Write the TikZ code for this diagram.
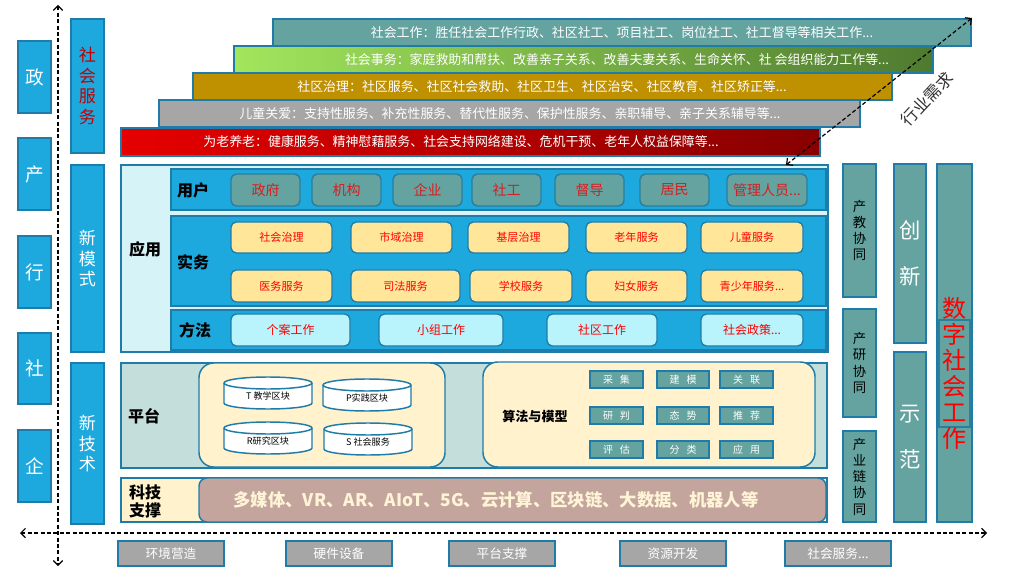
\documentclass[tikz,border=0pt]{standalone}
\usepackage{fontspec}
\setmainfont{Noto Sans CJK SC}
\usetikzlibrary{arrows.meta}
\definecolor{bfill}{HTML}{1EA9DE}
\definecolor{bline}{HTML}{1F7CA8}
\definecolor{tealc}{HTML}{64A39F}
\definecolor{tline}{HTML}{2A7F9E}
\definecolor{appbg}{HTML}{D6F4F8}
\definecolor{platbg}{HTML}{C3DEDB}
\definecolor{ylw}{HTML}{FFE699}
\definecolor{ylwl}{HTML}{FFF2CC}
\definecolor{cyanl}{HTML}{B9F3FB}
\definecolor{brownc}{HTML}{C4A59E}
\definecolor{grayc}{HTML}{A6A6A6}
\definecolor{goldc}{HTML}{BF9000}
\definecolor{grnL}{HTML}{A2E65C}
\definecolor{grnR}{HTML}{4E7A2F}
\definecolor{redL}{HTML}{E60000}
\definecolor{redR}{HTML}{870000}
\definecolor{dred}{HTML}{C00000}
\definecolor{txtred}{HTML}{D42020}
\definecolor{techtxt}{HTML}{FFF4D6}
% box from corners (pixel coordinates): [options]{name}{x1}{y1}{x2}{y2}{text}
\newcommand{\mkbox}[7][]{\node[#1,minimum width={(#5-#3)*0.75pt},minimum height={(#6-#4)*0.75pt}] (#2) at ({(#3+#5)/2},{(#4+#6)/2}) {#7};}
\newcommand{\mycyl}[4]{%
  \begin{scope}[shift={(#1,#2)}]
    \draw[cylsty] (-44,-10) -- (-44,10) arc[start angle=180,end angle=0,x radius=44,y radius=6]
      -- (44,-10) arc[start angle=0,end angle=-180,x radius=44,y radius=6] -- cycle;
    \draw[cylsty] (-44,-10) arc[start angle=180,end angle=0,x radius=44,y radius=6];
    \node[cyltext] (#3) at (0,3) {#4};
  \end{scope}}
\begin{document}
\begin{tikzpicture}[x=0.75pt,y=-0.75pt,
  every node/.style={inner sep=0pt,outer sep=0pt},
  sidebox/.style={draw=bline,fill=bfill,line width=1.1pt,text=white,font=\fontsize{14}{16}\selectfont},
  colbox/.style={draw=bline,fill=bfill,line width=1.1pt,align=center,text=white,font=\fontsize{12.8}{15.5}\selectfont},
  bar/.style={draw=bline,line width=1.1pt},
  bartext/.style={text=white,font=\fontsize{9.7}{10}\selectfont},
  rowbox/.style={draw=bline,fill=bfill,line width=1.1pt},
  userbox/.style={draw=tline,fill=tealc,rounded corners=4pt,line width=1.1pt,text=txtred,font=\fontsize{10.5}{12}\selectfont},
  wubox/.style={draw=bline,fill=ylw,rounded corners=4pt,line width=1pt,text=red,font=\fontsize{8.3}{9}\selectfont},
  fabox/.style={draw=bline,fill=cyanl,rounded corners=4pt,line width=1pt,text=red,font=\fontsize{9}{10}\selectfont},
  lbl/.style={font=\bfseries\fontsize{12}{15}\selectfont,align=center},
  cylsty/.style={draw=bline,fill=white,line width=1.1pt},
  cyltext/.style={font=\fontsize{6.8}{8}\selectfont},
  algbox/.style={draw=bline,fill=tealc,line width=1.1pt,text=white,font=\fontsize{7.5}{8}\selectfont},
  rcol/.style={draw=bline,fill=tealc,line width=1.1pt,align=center},
  botbox/.style={draw=bline,fill=grayc,line width=1.1pt,text=white,font=\fontsize{9.5}{10}\selectfont},
  darr/.style={dash pattern=on 3pt off 1.8pt,line width=0.9pt,{Straight Barb[length=3.5pt,width=7pt]}-{Straight Barb[length=3.5pt,width=7pt]}}
]
\useasboundingbox (0,0) rectangle (1009,573);

% left side boxes
\mkbox[sidebox]{zheng}{18}{41}{51}{113}{政}
\mkbox[sidebox]{chan}{18}{138}{51}{210}{产}
\mkbox[sidebox]{hang}{18}{236}{51}{308}{行}
\mkbox[sidebox]{she}{18}{333}{51}{404}{社}
\mkbox[sidebox]{qi}{18}{430}{51}{502}{企}

% category column
\mkbox[colbox,text=dred]{shfw}{71}{19}{104}{153}{社\\会\\服\\务}
\mkbox[colbox]{xms}{71}{165}{104}{352}{新\\模\\式}
\mkbox[colbox]{xjs}{71}{363}{104}{524}{新\\技\\术}

% top bars
\mkbox[bar,fill=tealc]{b1}{273}{19}{971}{46}{}
\mkbox[bar,left color=grnL,right color=grnR]{b2}{234}{46}{933}{73}{}
\mkbox[bar,fill=goldc]{b3}{193}{73}{892}{100}{}
\mkbox[bar,fill=grayc]{b4}{159}{100}{860}{127}{}
\mkbox[bar,left color=redL,right color=redR]{b5}{121}{128}{820}{156}{}
\node[bartext] (t1) at (622,33) {社会工作：胜任社会工作行政、社区社工、项目社工、岗位社工、社工督导等相关工作...};
\node[bartext] (t2) at (617,60) {社会事务：家庭救助和帮扶、改善亲子关系、改善夫妻关系、生命关怀、社 会组织能力工作等...};
\node[bartext] (t3) at (542,87) {社区治理：社区服务、社区社会救助、社区卫生、社区治安、社区教育、社区矫正等...};
\node[bartext] (t4) at (510,114) {儿童关爱：支持性服务、补充性服务、替代性服务、保护性服务、亲职辅导、亲子关系辅导等...};
\node[bartext] (t5) at (461,142) {为老养老：健康服务、精神慰藉服务、社会支持网络建设、危机干预、老年人权益保障等...};

% application region
\mkbox[draw=bline,fill=appbg,line width=1.1pt]{app}{121}{165}{828}{352}{}
\mkbox[rowbox]{rowuser}{171}{169}{826}{210}{}
\mkbox[rowbox]{rowwu}{171}{216}{826}{306}{}
\mkbox[rowbox]{rowfa}{171}{310}{826}{350}{}
\node[lbl] (yy) at (145,249) {应用};
\node[lbl] (yh) at (193,190) {用户};
\node[lbl] (sw) at (193,262) {实务};
\node[lbl] (ff) at (195,330) {方法};

\mkbox[userbox]{u1}{231}{174}{300}{206}{政府}
\mkbox[userbox]{u2}{312}{174}{381}{206}{机构}
\mkbox[userbox]{u3}{393}{174}{462}{206}{企业}
\mkbox[userbox]{u4}{472}{174}{541}{206}{社工}
\mkbox[userbox]{u5}{555}{174}{624}{206}{督导}
\mkbox[userbox]{u6}{640}{174}{709}{206}{居民}
\mkbox[userbox]{u7}{727}{174}{807}{206}{管理人员...}

\mkbox[wubox]{w1}{231}{222}{332}{253}{社会治理}
\mkbox[wubox]{w2}{351}{222}{452}{253}{市域治理}
\mkbox[wubox]{w3}{468}{222}{569}{253}{基层治理}
\mkbox[wubox]{w4}{586}{222}{687}{253}{老年服务}
\mkbox[wubox]{w5}{701}{222}{803}{253}{儿童服务}
\mkbox[wubox]{w6}{231}{270}{332}{302}{医务服务}
\mkbox[wubox]{w7}{351}{270}{460}{302}{司法服务}
\mkbox[wubox]{w8}{470}{270}{572}{302}{学校服务}
\mkbox[wubox]{w9}{586}{270}{687}{302}{妇女服务}
\mkbox[wubox]{w10}{701}{270}{803}{302}{青少年服务...}

\mkbox[fabox]{f1}{231}{314}{350}{346}{个案工作}
\mkbox[fabox]{f2}{379}{314}{503}{346}{小组工作}
\mkbox[fabox]{f3}{547}{314}{657}{346}{社区工作}
\mkbox[fabox]{f4}{701}{314}{803}{346}{社会政策...}

% platform region
\mkbox[draw=bline,fill=platbg,line width=1.1pt]{plat}{121}{363}{827}{468}{}
\node[lbl] (pt) at (144,416) {平台};
\mkbox[draw=bline,fill=ylwl,line width=1.1pt,rounded corners=11pt]{blk}{199}{363}{445}{467}{}
\mkbox[draw=bline,fill=ylwl,line width=1.1pt,rounded corners=11pt]{alg}{483}{362}{815}{467}{}
\mycyl{268}{393}{cT}{T 教学区块}
\mycyl{367}{395}{cP}{P实践区块}
\mycyl{268}{438}{cR}{R研究区块}
\mycyl{368}{439}{cS}{S 社会服务}
\node[font=\bfseries\fontsize{9.8}{11}\selectfont] (sf) at (535,416) {算法与模型};
\mkbox[algbox]{a1}{590}{371}{643}{388}{采\hspace{0.7em}集}
\mkbox[algbox]{a2}{657}{371}{709}{388}{建\hspace{0.7em}模}
\mkbox[algbox]{a3}{720}{371}{773}{388}{关\hspace{0.7em}联}
\mkbox[algbox]{a4}{590}{407}{643}{424}{研\hspace{0.7em}判}
\mkbox[algbox]{a5}{657}{407}{709}{424}{态\hspace{0.7em}势}
\mkbox[algbox]{a6}{720}{407}{773}{424}{推\hspace{0.7em}荐}
\mkbox[algbox]{a7}{590}{441}{643}{458}{评\hspace{0.7em}估}
\mkbox[algbox]{a8}{657}{441}{709}{458}{分\hspace{0.7em}类}
\mkbox[algbox]{a9}{720}{441}{773}{458}{应\hspace{0.7em}用}

% technology support
\mkbox[draw=bline,fill=ylwl,line width=1.1pt]{tech}{121}{478}{827}{522}{}
\node[lbl,font=\bfseries\fontsize{12}{13.5}\selectfont] (kj) at (145,501) {科技\\支撑};
\mkbox[draw=bline,fill=brownc,line width=1.1pt,rounded corners=6pt]{techbar}{199}{478}{826}{522}{}
\node[text=techtxt,font=\bfseries\fontsize{13}{14}\selectfont] (techt) at (496,500) {多媒体、VR、AR、AIoT、5G、云计算、区块链、大数据、机器人等};

% right columns
\mkbox[rcol,font=\fontsize{10}{12.2}\selectfont]{r1}{843}{164}{876}{297}{产\\教\\协\\同}
\mkbox[rcol,font=\fontsize{10}{12.2}\selectfont]{r2}{843}{309}{876}{417}{产\\研\\协\\同}
\mkbox[rcol,font=\fontsize{10}{12.2}\selectfont]{r3}{843}{431}{876}{522}{产\\业\\链\\协\\同}
\mkbox[rcol,text=white,font=\fontsize{16}{35}\selectfont]{cx}{894}{164}{926}{343}{创\\新}
\mkbox[rcol,text=white,font=\fontsize{16}{34}\selectfont]{sfan}{894}{352}{926}{522}{示\\范}
\mkbox[rcol]{szo}{937}{164}{972}{522}{}
\mkbox[draw=tline,line width=1.5pt]{szi}{939}{320}{970}{427}{}
\node[text=red,align=center,font=\fontsize{18}{19.5}\selectfont] (szt) at (954,373) {数\\字\\社\\会\\工\\作};

% bottom boxes
\mkbox[botbox]{d1}{118}{541}{224}{566}{环境营造}
\mkbox[botbox]{d2}{286}{541}{392}{566}{硬件设备}
\mkbox[botbox]{d3}{449}{541}{555}{566}{平台支撑}
\mkbox[botbox]{d4}{620}{541}{726}{566}{资源开发}
\mkbox[botbox]{d5}{785}{541}{891}{566}{社会服务...}

% arrows
\coordinate (vtop) at (58,5);
\coordinate (vbot) at (58,566);
\coordinate (hl) at (20,533);
\coordinate (hr) at (987,533);
\coordinate (dtop) at (972,18);
\coordinate (dbot) at (786,165);
\draw[darr] (vtop) -- (vbot);
\draw[darr] (hl) -- (hr);
\draw[darr] (dbot) -- (dtop);
\node[rotate=47,text=black!80,font=\fontsize{12.5}{14}\selectfont] (hyxq) at (927,99) {行业需求};
\end{tikzpicture}
\end{document}
